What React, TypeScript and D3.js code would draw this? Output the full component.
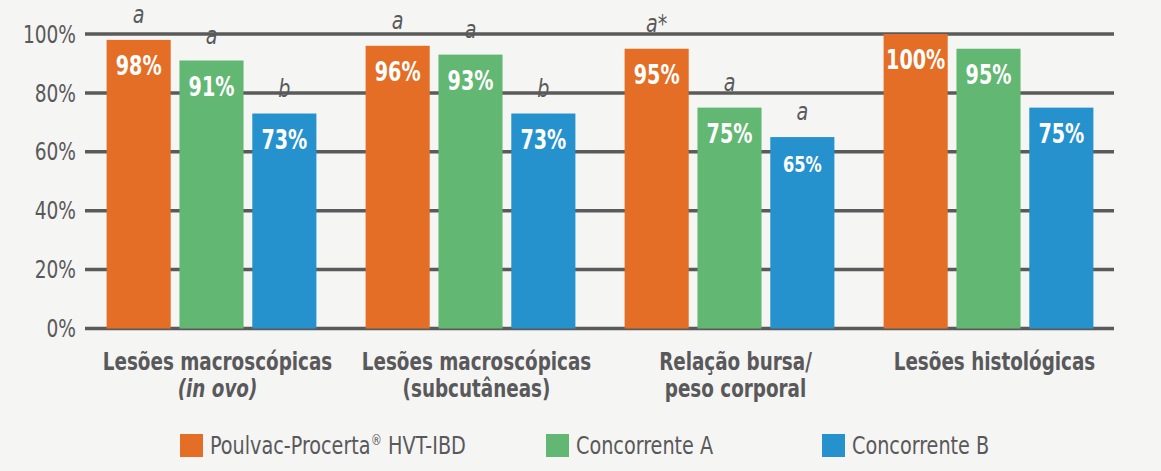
import * as d3 from "d3";
import type { ReactNode } from "react";

const categories = [
  ["Lesões macroscópicas", "(in ovo)"],
  ["Lesões macroscópicas", "(subcutâneas)"],
  ["Relação bursa/", "peso corporal"],
  ["Lesões histológicas"],
];
const seriesNames = ["Poulvac-Procerta® HVT-IBD", "Concorrente A", "Concorrente B"];
const poulvacValues = [98, 96, 95, 100];
const concorrenteAValues = [91, 93, 75, 95];
const concorrenteBValues = [73, 73, 65, 75];
const poulvacLetters = ["a", "a", "a*", ""];
const concorrenteALetters = ["a", "a", "a", ""];
const concorrenteBLetters = ["b", "b", "a", ""];
const yTicks = [0, 20, 40, 60, 80, 100];

const width = 1161;
const height = 471;
const colors = ["#e46e26", "#62b773", "#2592ce"];
const textColor = "#59595b";
const font = "'DejaVu Sans Condensed', 'DejaVu Sans', sans-serif";
const italicLines = ["(in ovo)"];

// condensed text: squeeze horizontally since no narrow font is available
const NText = ({
  x,
  y,
  sx = 0.85,
  children,
  ...rest
}: {
  x: number;
  y: number;
  sx?: number;
  children: ReactNode;
  [k: string]: any;
}) => (
  <g transform={`translate(${x},${y}) scale(${sx},1)`}>
    <text {...rest}>{children}</text>
  </g>
);

const App = () => {
  const values = [poulvacValues, concorrenteAValues, concorrenteBValues];
  const letters = [poulvacLetters, concorrenteALetters, concorrenteBLetters];

  const x0 = d3
    .scaleBand<number>()
    .domain(categories.map((_, i) => i))
    .range([82, 1118])
    .paddingInner(0.19)
    .paddingOuter(0.095);

  const x1 = d3
    .scaleBand<number>()
    .domain(seriesNames.map((_, i) => i))
    .range([0, x0.bandwidth()])
    .paddingInner(0.12);

  const y = d3.scaleLinear().domain([0, 100]).range([328.5, 34]);

  return (
    <svg
      width={width}
      height={height}
      style={{ position: "absolute", left: 0, top: 0, display: "block" }}
      fontFamily={font}
    >
      <rect width={width} height={height} fill="#f5f5f3" />

      {/* grid + y labels */}
      {yTicks.map((t) => (
        <g key={t}>
          <line x1={85} x2={1114} y1={y(t)} y2={y(t)} stroke="#5a5a5a" strokeWidth={3.5} />
          <NText
            x={76}
            y={y(t)}
            sx={0.86}
            dy="0.36em"
            textAnchor="end"
            fontSize={24}
            fill={textColor}
          >
            {t}%
          </NText>
        </g>
      ))}

      {/* bars */}
      {categories.map((_, ci) => (
        <g key={ci} transform={`translate(${x0(ci)},0)`}>
          {values.map((vals, si) => {
            const bx = x1(si) as number;
            const bw = x1.bandwidth();
            const v = vals[ci];
            return (
              <g key={si}>
                <rect x={bx} y={y(v)} width={bw} height={y(0) - y(v)} fill={colors[si]} />
                <NText
                  x={bx + bw / 2}
                  y={y(v) + 35}
                  sx={0.82}
                  textAnchor="middle"
                  fontSize={v < 70 ? 22 : 26}
                  fontWeight="bold"
                  fill="#ffffff"
                >
                  {v}%
                </NText>
                {letters[si][ci] && (
                  <NText
                    x={bx + bw / 2}
                    y={y(v) - 17}
                    sx={0.85}
                    textAnchor="middle"
                    fontSize={25}
                    fontStyle="italic"
                    fill={textColor}
                  >
                    {letters[si][ci]}
                  </NText>
                )}
              </g>
            );
          })}
        </g>
      ))}

      {/* category labels */}
      {categories.map((lines, ci) =>
        lines.map((l, li) => (
          <NText
            key={`${ci}-${li}`}
            x={(x0(ci) as number) + x0.bandwidth() / 2 + 6}
            y={370 + li * 27}
            sx={0.85}
            textAnchor="middle"
            fontSize={24}
            fontWeight="bold"
            fontStyle={italicLines.includes(l) ? "italic" : "normal"}
            fill={textColor}
          >
            {l}
          </NText>
        ))
      )}

      {/* legend */}
      {seriesNames.map((name, si) => {
        const lx = [180, 546, 822][si];
        const parts = name.split("®");
        return (
          <g key={name} transform={`translate(${lx},434)`}>
            <rect width={23} height={23} fill={colors[si]} />
            <NText x={30} y={20} sx={0.89} fontSize={24} fill={textColor}>
              {parts[0]}
              {parts.length > 1 && (
                <>
                  <tspan fontSize={14} dy={-9}>
                    ®
                  </tspan>
                  <tspan dy={9}>{parts[1]}</tspan>
                </>
              )}
            </NText>
          </g>
        );
      })}
    </svg>
  );
};

export default App;
